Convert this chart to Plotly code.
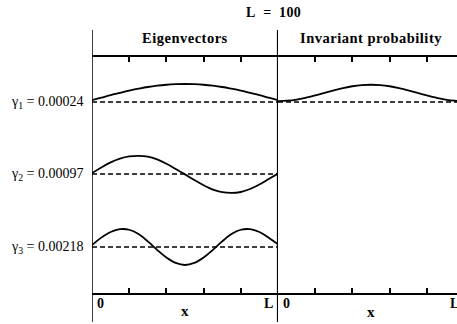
import plotly.graph_objects as go

# Position along the lattice, in percent of L
x_pos = [0, 5, 10, 15, 20, 25, 30, 35, 40, 45, 50,
         55, 60, 65, 70, 75, 80, 85, 90, 95, 100]

# Eigenvectors (arbitrary units, baseline 0)
eig1 = [0.10, 0.23, 0.37, 0.49, 0.61, 0.71, 0.80, 0.87, 0.92, 0.95, 0.96,
        0.95, 0.92, 0.87, 0.80, 0.71, 0.61, 0.49, 0.37, 0.23, 0.10]
eig2 = [0.05, 0.35, 0.62, 0.82, 0.94, 0.97, 0.93, 0.78, 0.55, 0.27, -0.02,
        -0.32, -0.60, -0.83, -0.97, -1.01, -0.96, -0.80, -0.56, -0.27, 0.02]
eig3 = [0.10, 0.50, 0.80, 0.95, 0.92, 0.69, 0.30, -0.15, -0.56, -0.85, -0.96,
        -0.85, -0.56, -0.15, 0.30, 0.69, 0.92, 0.95, 0.80, 0.50, 0.14]
# Invariant probability (arbitrary units)
inv_prob = [0.05, 0.07, 0.13, 0.23, 0.35, 0.49, 0.62, 0.74, 0.84, 0.90, 0.92,
            0.90, 0.84, 0.74, 0.62, 0.49, 0.35, 0.23, 0.13, 0.07, 0.05]

gammas = ["0.00024", "0.00097", "0.00218"]
tick_vals = [20, 40, 60, 80]

W, H = 457, 324
X0, XM, XR = 92, 278, 464          # panel edges (px)
Y_TOP, Y_BOT = 57, 293             # frame lines (px)
ROW_BASE = [102, 174, 247]         # row baselines (px)
UNIT_PX = 18.75                    # pixels per unit of amplitude

def px(v):
    return v / W

def py(v):
    return 1 - v / H

# vertical offset of each row's baseline inside the frame
row_off = [(Y_BOT - b) / UNIT_PX for b in ROW_BASE]
y_top = (Y_BOT - Y_TOP) / UNIT_PX

SERIF = "Liberation Serif"

def bold_spaced(s, sp):
    return '<b><span style="letter-spacing:%.1fpx">%s</span></b>' % (sp, s)

fig = go.Figure()

dash_line = dict(color="black", width=1.3, dash="5px,3px")
solid_line = dict(color="black", width=1.8, shape="spline")

for vals, off in zip([eig1, eig2, eig3], row_off):
    fig.add_trace(go.Scatter(x=[x_pos[0], x_pos[-1]], y=[off, off], xaxis="x", yaxis="y",
                             mode="lines", line=dash_line, hoverinfo="skip"))
    fig.add_trace(go.Scatter(x=x_pos, y=[v + off for v in vals], xaxis="x", yaxis="y",
                             mode="lines", line=solid_line, hoverinfo="skip"))

off = row_off[0]
fig.add_trace(go.Scatter(x=[x_pos[0], x_pos[-1]], y=[off, off], xaxis="x2", yaxis="y",
                         mode="lines", line=dash_line, hoverinfo="skip"))
fig.add_trace(go.Scatter(x=x_pos, y=[v + off for v in inv_prob], xaxis="x2", yaxis="y",
                         mode="lines", line=solid_line, hoverinfo="skip"))

# Frame lines top and bottom, with short inward ticks on both
xstyle = dict(showline=True, linecolor="black", linewidth=1.5, mirror="ticks",
              ticks="inside", ticklen=5, tickwidth=1.5, tickcolor="black",
              tickmode="array", tickvals=tick_vals, showticklabels=False,
              showgrid=False, zeroline=False, anchor="y")

fig.update_layout(
    width=W, height=H, margin=dict(l=0, r=0, t=0, b=0),
    paper_bgcolor="white", plot_bgcolor="white", showlegend=False,
    xaxis=dict(domain=[px(X0), px(XM)], range=[0, 100], **xstyle),
    xaxis2=dict(domain=[px(XM), 1], range=[0, 100 * (W - XM) / (XR - XM)], **xstyle),
    yaxis=dict(domain=[py(Y_BOT), py(Y_TOP)], range=[0, y_top], showline=False,
               showticklabels=False, showgrid=False, zeroline=False, ticks=""),
)

# Vertical frame lines
fig.add_shape(type="line", xref="x", x0=0, x1=0, yref="paper", y0=py(322), y1=py(30),
              line=dict(color="black", width=1.5))
fig.add_shape(type="line", xref="x", x0=100, x1=100, yref="paper", y0=py(322), y1=py(30),
              line=dict(color="black", width=2.2))

def note(text, x, y, xref="paper", xanchor="center", size=13, family=SERIF, xshift=0):
    return dict(text=text, x=x, y=y, xref=xref, yref="paper", xanchor=xanchor,
                yanchor="middle", xshift=xshift, showarrow=False,
                font=dict(family=family, size=size, color="black"))

ann = [
    note(bold_spaced("L&nbsp;&nbsp;=&nbsp;&nbsp;100", 0.3), px(273), py(13), size=14),
    note(bold_spaced("Eigenvectors", 0.5), 50, py(38), xref="x", size=14.5),
    note(bold_spaced("Invariant probability", 0.5), px((XM + XR) / 2), py(38), size=14.5),
]
for i, (g, b) in enumerate(zip(gammas, ROW_BASE)):
    ann.append(note("\u03b3<sub>%d</sub> = %s" % (i + 1, g), px(86), py(b),
                    xanchor="right", size=14))
ann += [
    note("<b>0</b>", 0, py(303), xref="x", xanchor="left", xshift=3, size=14),
    note("<b>L</b>", 100, py(303), xref="x", xanchor="right", xshift=-3, size=14),
    note("<b>0</b>", 0, py(303), xref="x2", xanchor="left", xshift=3, size=14),
    note("<b>L</b>", px(XR), py(303), xanchor="right", xshift=-3, size=14),
    note("<b>x</b>", 50, py(311), xref="x", size=15),
    note("<b>x</b>", px((XM + XR) / 2), py(312), size=15),
]
fig.update_layout(annotations=ann)

fig.write_html("out.html")
